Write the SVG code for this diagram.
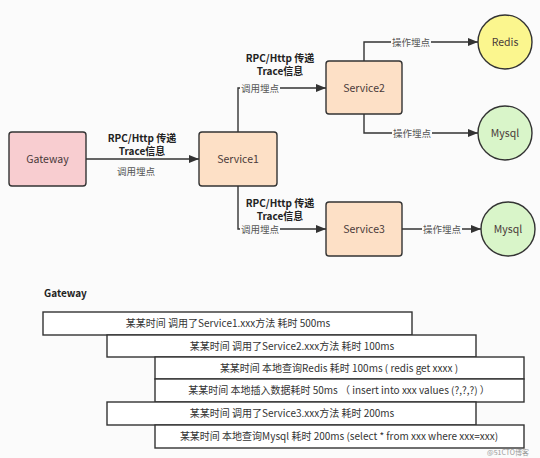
<svg xmlns="http://www.w3.org/2000/svg" width="540" height="458" viewBox="0 0 540 458">
<style>
.bg{fill:#fbfbfb}
.box{stroke:#333;stroke-width:1.4}
.lbl{font-family:"Noto Sans CJK SC","Noto Sans",sans-serif;font-size:10.5px;fill:#4a3a3a;text-anchor:middle}
.bold{font-family:"Noto Sans CJK SC","Noto Sans",sans-serif;font-size:10px;font-weight:bold;fill:#222;text-anchor:middle}
.small{font-family:"Noto Sans CJK SC","Noto Sans",sans-serif;font-size:9.5px;fill:#555;text-anchor:middle}
.line{fill:none;stroke:#333;stroke-width:1.4}
.bar{fill:#fff;stroke:#333;stroke-width:1.4}
.bt{font-family:"Noto Sans CJK SC","Noto Sans",sans-serif;font-size:10px;fill:#333;text-anchor:middle}
</style>
<defs>
<marker id="ah" markerWidth="10" markerHeight="8" refX="10" refY="4" orient="auto" markerUnits="userSpaceOnUse">
<path d="M0,0 L10,4 L0,8 Z" fill="#333"/>
</marker>
</defs>
<rect class="bg" x="0" y="0" width="540" height="458"/>

<g id="connectors">
<path class="line" d="M86,159 L199,159" marker-end="url(#ah)"/>
<path class="line" d="M238,132 L238,88 L326,88" marker-end="url(#ah)"/>
<path class="line" d="M238,186 L238,229 L326,229" marker-end="url(#ah)"/>
<path class="line" d="M364,61 L364,42 L478,42" marker-end="url(#ah)"/>
<path class="line" d="M364,114 L364,133 L478,133" marker-end="url(#ah)"/>
<path class="line" d="M402,229 L481,229" marker-end="url(#ah)"/>
<text class="bold" x="142" y="141.5">RPC/Http 传递</text>
<text class="bold" x="142" y="155">Trace信息</text>
<text class="small" x="136" y="175">调用埋点</text>
<text class="bold" x="280" y="61.5">RPC/Http 传递</text>
<text class="bold" x="280" y="75">Trace信息</text>
<rect class="bg" x="240" y="82" width="40" height="12"/>
<text class="small" x="260" y="91.5">调用埋点</text>
<text class="bold" x="280" y="206.5">RPC/Http 传递</text>
<text class="bold" x="280" y="220">Trace信息</text>
<rect class="bg" x="240" y="223" width="40" height="12"/>
<text class="small" x="260" y="233">调用埋点</text>
<rect class="bg" x="391" y="36" width="40" height="12"/>
<text class="small" x="411" y="45.5">操作埋点</text>
<rect class="bg" x="392" y="127" width="40" height="12"/>
<text class="small" x="412" y="136.5">操作埋点</text>
<rect class="bg" x="422" y="223" width="40" height="12"/>
<text class="small" x="442" y="232.5">操作埋点</text>
</g>

<g id="gateway">
<rect class="box" x="9" y="132" width="77" height="54" rx="3" fill="#f8cdd0"/>
<text class="lbl" x="47.5" y="163">Gateway</text>
</g>
<g id="service1">
<rect class="box" x="199" y="132" width="78" height="54" rx="3" fill="#fde0c6"/>
<text class="lbl" x="238" y="163">Service1</text>
</g>
<g id="service2">
<rect class="box" x="326" y="61" width="76" height="53" rx="3" fill="#fde0c6"/>
<text class="lbl" x="364" y="91.5">Service2</text>
</g>
<g id="service3">
<rect class="box" x="326" y="202" width="76" height="54" rx="3" fill="#fde0c6"/>
<text class="lbl" x="364" y="232.5">Service3</text>
</g>
<g id="redis">
<circle class="box" cx="505" cy="42" r="27" fill="#fbf68e"/>
<text class="lbl" x="505" y="45.5">Redis</text>
</g>
<g id="mysql1">
<circle class="box" cx="505" cy="133" r="27" fill="#d9f5c9"/>
<text class="lbl" x="505" y="136.5">Mysql</text>
</g>
<g id="mysql2">
<circle class="box" cx="508" cy="229" r="27" fill="#d9f5c9"/>
<text class="lbl" x="508" y="232.5">Mysql</text>
</g>

<g id="timeline">
<text x="44" y="297" style="font-family:'Noto Sans CJK SC','Noto Sans',sans-serif;font-size:10px;font-weight:bold;fill:#222">Gateway</text>
<rect class="bar" x="43" y="312" width="369" height="23"/>
<text class="bt" x="228" y="327">某某时间 调用了Service1.xxx方法 耗时 500ms</text>
<rect class="bar" x="107" y="335" width="369" height="22"/>
<text class="bt" x="292" y="349.5">某某时间 调用了Service2.xxx方法 耗时 100ms</text>
<rect class="bar" x="155" y="357" width="369" height="22"/>
<text class="bt" x="339" y="371.5">某某时间 本地查询Redis 耗时 100ms ( redis get xxxx )</text>
<rect class="bar" x="155" y="379" width="369" height="23"/>
<text class="bt" x="339" y="394">某某时间  本地插入数据耗时 50ms （ insert into xxx values (?,?,?) ）</text>
<rect class="bar" x="107" y="402" width="369" height="23"/>
<text class="bt" x="292" y="417">某某时间 调用了Service3.xxx方法 耗时 200ms</text>
<rect class="bar" x="155" y="425" width="369" height="23"/>
<text class="bt" x="339" y="440">某某时间 本地查询Mysql 耗时 200ms (select * from xxx where xxx=xxx)</text>
<text x="508" y="455" style="font-family:'Noto Sans CJK SC','Noto Sans',sans-serif;font-size:7px;fill:#999;text-anchor:middle">@51CTO博客</text>
</g>
</svg>
